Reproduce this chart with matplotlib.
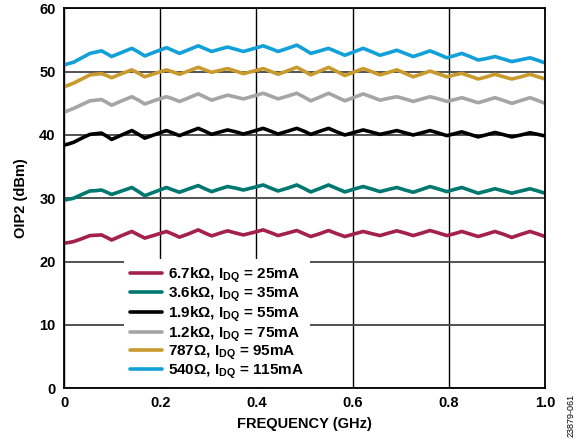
import matplotlib
matplotlib.use("Agg")
import matplotlib.pyplot as plt

plt.rcParams['font.family'] = ['Liberation Sans', 'DejaVu Sans']
plt.rcParams['font.weight'] = 'bold'
plt.rcParams['mathtext.fontset'] = 'custom'
plt.rcParams['mathtext.bf'] = 'Liberation Sans:bold'
plt.rcParams['mathtext.rm'] = 'Liberation Sans:bold'

# frequency points (GHz), read at peaks, troughs and between them
freq = [0.0, 0.01, 0.02, 0.037, 0.054, 0.066, 0.078, 0.089, 0.099, 0.120,
        0.141, 0.155, 0.168, 0.190, 0.213, 0.227, 0.240, 0.260, 0.279, 0.293,
        0.307, 0.323, 0.340, 0.357, 0.373, 0.394, 0.414, 0.430, 0.445, 0.465,
        0.484, 0.499, 0.513, 0.532, 0.550, 0.567, 0.584, 0.603, 0.622, 0.640,
        0.657, 0.675, 0.692, 0.709, 0.726, 0.744, 0.761, 0.779, 0.796, 0.812,
        0.827, 0.844, 0.861, 0.879, 0.896, 0.914, 0.931, 0.950, 0.969, 0.985,
        1.0]

oip2_6k7 = [22.9, 23.0, 23.15, 23.6, 24.1, 24.15, 24.2, 23.8, 23.4, 24.1,
            24.75, 24.2, 23.7, 24.2, 24.75, 24.3, 23.85, 24.4, 25.0, 24.5,
            24.05, 24.45, 24.85, 24.5, 24.2, 24.6, 25.0, 24.55, 24.1, 24.5,
            24.9, 24.4, 23.95, 24.4, 24.9, 24.4, 23.95, 24.35, 24.75, 24.4,
            24.1, 24.5, 24.85, 24.5, 24.1, 24.5, 24.9, 24.5, 24.1, 24.4,
            24.75, 24.35, 23.95, 24.35, 24.75, 24.3, 23.8, 24.3, 24.75, 24.35,
            23.95]

oip2_3k6 = [29.7, 29.85, 30.0, 30.6, 31.15, 31.2, 31.3, 30.95, 30.6, 31.15,
            31.7, 31.05, 30.4, 31.05, 31.7, 31.3, 30.95, 31.5, 32.0, 31.5,
            31.05, 31.45, 31.85, 31.6, 31.3, 31.7, 32.1, 31.6, 31.15, 31.6,
            32.1, 31.55, 31.0, 31.55, 32.1, 31.55, 31.0, 31.45, 31.85, 31.45,
            31.05, 31.4, 31.7, 31.3, 30.95, 31.4, 31.85, 31.45, 31.05, 31.4,
            31.7, 31.25, 30.8, 31.15, 31.5, 31.15, 30.8, 31.15, 31.5, 31.15,
            30.8]

oip2_1k9 = [38.4, 38.6, 38.85, 39.5, 40.1, 40.2, 40.3, 39.8, 39.3, 40.0,
            40.7, 40.1, 39.5, 40.1, 40.7, 40.3, 39.9, 40.5, 41.05, 40.6,
            40.1, 40.45, 40.8, 40.5, 40.15, 40.6, 41.05, 40.6, 40.15, 40.6,
            41.05, 40.6, 40.1, 40.6, 41.05, 40.5, 40.0, 40.4, 40.8, 40.45,
            40.1, 40.4, 40.7, 40.35, 40.0, 40.35, 40.7, 40.3, 39.9, 40.2,
            40.5, 40.1, 39.7, 40.05, 40.4, 40.05, 39.7, 40.0, 40.35, 40.1,
            39.85]

oip2_1k2 = [43.6, 43.9, 44.2, 44.8, 45.4, 45.5, 45.6, 45.15, 44.7, 45.4,
            46.05, 45.5, 44.9, 45.5, 46.05, 45.7, 45.3, 45.9, 46.5, 46.0,
            45.5, 45.9, 46.3, 46.0, 45.7, 46.15, 46.6, 46.15, 45.7, 46.15,
            46.6, 46.0, 45.4, 46.0, 46.6, 46.0, 45.4, 45.95, 46.5, 46.0,
            45.5, 45.8, 46.05, 45.7, 45.3, 45.7, 46.05, 45.7, 45.3, 45.6,
            45.9, 45.5, 45.1, 45.5, 45.9, 45.45, 45.0, 45.45, 45.9, 45.45,
            45.0]

oip2_787 = [47.6, 47.9, 48.2, 48.85, 49.5, 49.6, 49.7, 49.4, 49.05, 49.7,
            50.3, 49.75, 49.2, 49.75, 50.3, 49.95, 49.6, 50.15, 50.7, 50.3,
            49.9, 50.2, 50.5, 50.1, 49.7, 50.1, 50.5, 50.05, 49.6, 50.15,
            50.7, 50.1, 49.5, 50.1, 50.7, 50.05, 49.4, 49.95, 50.5, 50.0,
            49.5, 49.9, 50.3, 49.75, 49.2, 49.65, 50.1, 49.65, 49.2, 49.5,
            49.75, 49.3, 48.85, 49.2, 49.6, 49.2, 48.85, 49.2, 49.6, 49.2,
            48.85]

oip2_540 = [51.05, 51.3, 51.5, 52.2, 52.9, 53.1, 53.3, 52.85, 52.4, 53.05,
            53.7, 53.1, 52.5, 53.15, 53.8, 53.35, 52.9, 53.5, 54.1, 53.65,
            53.2, 53.55, 53.9, 53.55, 53.2, 53.65, 54.1, 53.65, 53.2, 53.7,
            54.2, 53.55, 52.9, 53.3, 53.7, 53.15, 52.6, 53.15, 53.7, 53.15,
            52.6, 53.0, 53.4, 52.9, 52.4, 52.85, 53.3, 52.75, 52.2, 52.55,
            52.9, 52.4, 51.85, 52.1, 52.4, 52.0, 51.6, 51.9, 52.2, 51.8,
            51.4]

series = [oip2_6k7, oip2_3k6, oip2_1k9, oip2_1k2, oip2_787, oip2_540]
labels = ['6.7kΩ, I$_{\\mathbf{DQ}}$ = 25mA',
          '3.6kΩ, I$_{\\mathbf{DQ}}$ = 35mA',
          '1.9kΩ, I$_{\\mathbf{DQ}}$ = 55mA',
          '1.2kΩ, I$_{\\mathbf{DQ}}$ = 75mA',
          '787Ω, I$_{\\mathbf{DQ}}$ = 95mA',
          '540Ω, I$_{\\mathbf{DQ}}$ = 115mA']
colors = ['#A3214C', '#00786F', '#000000', '#A5A5A5', '#C99A2E', '#12A0D8']

fig = plt.figure(figsize=(5.84, 4.46), dpi=100)
ax = fig.add_axes([0.1096, 0.130, 0.8236, 0.851])

for y, lab, c in zip(series, labels, colors):
    ax.plot(freq, y, color=c, lw=2.6, label=lab, solid_capstyle='round')

ax.set_xlim(0, 1.0)
ax.set_ylim(0, 60)
ax.set_xticks([0, 0.2, 0.4, 0.6, 0.8, 1.0])
ax.set_xticklabels(['0', '0.2', '0.4', '0.6', '0.8', '1.0'])
ax.set_yticks(range(0, 61, 10))
ax.tick_params(length=0, labelsize=10.5, pad=6)
ax.set_axisbelow(True)
ax.grid(axis='x', color='black', lw=1.0)
ax.grid(axis='y', color='#444444', lw=1.3)
for s in ax.spines.values():
    s.set_linewidth(1.3)

ax.set_xlabel('FREQUENCY (GHz)', fontsize=10.5, fontweight='bold', labelpad=5)
ax.set_ylabel('OIP2 (dBm)', fontsize=10.5, fontweight='bold', labelpad=8)

leg = ax.legend(loc='lower left', bbox_to_anchor=(0.125, 0.003), fontsize=11,
                frameon=True, fancybox=False, framealpha=1, edgecolor='white',
                handlelength=2.1, handletextpad=0.35, labelspacing=0.0,
                borderpad=0.4, borderaxespad=0)
leg.get_frame().set_linewidth(0)

fig.text(0.985, 0.02, '23879-061', rotation=90, fontsize=6.5,
         fontweight='normal', ha='right', va='bottom')

fig.savefig('out.png', dpi=100)
